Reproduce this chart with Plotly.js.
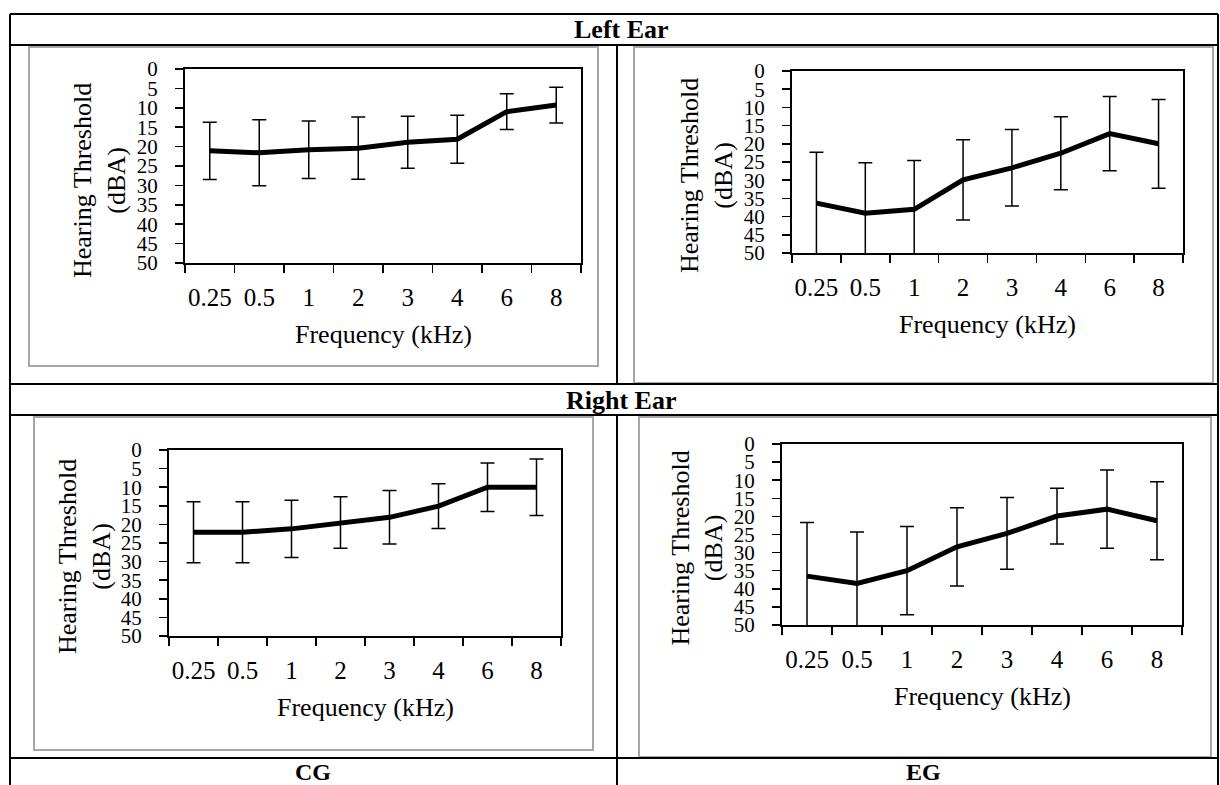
<!DOCTYPE html>
<html>
<head>
<meta charset="utf-8">
<script src="https://cdn.plot.ly/plotly-3.0.1.min.js"></script>
<style>
  html, body { margin: 0; padding: 0; background: #ffffff; }
  #chart { width: 1220px; height: 785px; }
</style>
</head>
<body>
<div id="chart"></div>
<script>
// ---------- data ----------
const freqLabels = ['0.25', '0.5', '1', '2', '3', '4', '6', '8'];
const yTicks = [0, 5, 10, 15, 20, 25, 30, 35, 40, 45, 50];

// Control group (CG), left ear
const cgLeftMean = [21.1, 21.6, 20.8, 20.4, 18.9, 18.1, 11.0, 9.3];
const cgLeftSD   = [7.4, 8.5, 7.4, 8.0, 6.7, 6.2, 4.6, 4.6];
// Exposed group (EG), left ear
const egLeftMean = [36.3, 39.1, 38.0, 29.9, 26.6, 22.6, 17.2, 20.0];
const egLeftSD   = [14.0, 13.9, 13.4, 11.0, 10.5, 10.0, 10.2, 12.2];
// Control group (CG), right ear
const cgRightMean = [22.1, 22.1, 21.2, 19.5, 18.1, 15.1, 10.0, 10.0];
const cgRightSD   = [8.2, 8.2, 7.7, 6.9, 7.2, 6.0, 6.5, 7.6];
// Exposed group (EG), right ear
const egRightMean = [36.5, 38.5, 35.0, 28.4, 24.7, 19.9, 18.0, 21.2];
const egRightSD   = [14.8, 14.2, 12.2, 10.8, 9.9, 7.7, 10.8, 10.8];

const rowLabels = ['Left Ear', 'Right Ear'];
const groupLabels = ['CG', 'EG'];
const xTitle = 'Frequency (kHz)';
const yTitle = 'Hearing Threshold<br>(dBA)';

// ---------- layout helpers ----------
const W = 1220, H = 785;
const PX = p => p / W;
const PY = p => 1 - p / H;
const FONT = 'Liberation Serif';

const series = [
  { mean: cgLeftMean,  sd: cgLeftSD,  box: [29, 47, 598, 366],  plot: [185, 69, 581, 263] },
  { mean: egLeftMean,  sd: egLeftSD,  box: [634, 47, 1213, 383], plot: [792, 71, 1183, 253] },
  { mean: cgRightMean, sd: cgRightSD, box: [34, 417, 593, 750], plot: [169, 450, 561, 636] },
  { mean: egRightMean, sd: egRightSD, box: [639, 417, 1211, 757], plot: [782, 444, 1182, 625] }
];

const traces = [];
const layout = {
  width: W, height: H,
  margin: { l: 0, r: 0, t: 0, b: 0 },
  paper_bgcolor: '#ffffff',
  plot_bgcolor: '#ffffff',
  showlegend: false,
  font: { family: FONT, color: '#000000' },
  shapes: [],
  annotations: []
};

series.forEach((s, i) => {
  const n = i === 0 ? '' : String(i + 1);
  traces.push({
    type: 'scatter',
    mode: 'lines',
    x: freqLabels,
    y: s.mean,
    xaxis: 'x' + n,
    yaxis: 'y' + n,
    line: { color: '#000000', width: 5 },
    error_y: { type: 'data', array: s.sd, visible: true, color: '#000000', thickness: 1.5, width: 7 },
    hoverinfo: 'x+y'
  });
  const [l, t, r, b] = s.plot;
  layout['xaxis' + n] = {
    domain: [PX(l), PX(r)],
    anchor: 'y' + n,
    type: 'category',
    range: [-0.5, 7.5],
    tickson: 'boundaries',
    tickangle: 0,
    ticks: 'outside', ticklen: 8, tickwidth: 1.5, tickcolor: '#000000',
    showline: true, linecolor: '#000000', linewidth: 2, mirror: true,
    showgrid: false, zeroline: false,
    tickfont: { family: FONT, size: 25, color: '#000000' },
    ticklabelstandoff: 11,
    fixedrange: true
  };
  layout['yaxis' + n] = {
    domain: [PY(b), PY(t)],
    anchor: 'x' + n,
    range: [50, 0],
    tickmode: 'array',
    tickvals: yTicks,
    ticktext: yTicks.map(String),
    tickangle: 0,
    ticks: 'outside', ticklen: 8, tickwidth: 1.5, tickcolor: '#000000',
    showline: true, linecolor: '#000000', linewidth: 2, mirror: true,
    showgrid: false, zeroline: false,
    tickfont: { family: FONT, size: 21, color: '#000000' },
    ticklabelstandoff: 13,
    fixedrange: true
  };
  // gray frame around each chart
  const [bx0, by0, bx1, by1] = s.box;
  layout.shapes.push({
    type: 'rect', xref: 'paper', yref: 'paper',
    x0: PX(bx0), x1: PX(bx1), y0: PY(by1), y1: PY(by0),
    line: { color: '#a6a6a6', width: 2 }, fillcolor: 'rgba(0,0,0,0)', layer: 'below'
  });
  // axis titles
  layout.annotations.push({
    xref: 'paper', yref: 'paper',
    x: PX((l + r) / 2), y: PY(b + 71),
    xanchor: 'center', yanchor: 'middle',
    text: xTitle, showarrow: false,
    font: { family: FONT, size: 26, color: '#000000' }
  });
  layout.annotations.push({
    xref: 'paper', yref: 'paper',
    x: PX(l - 85), y: PY((t + b) / 2 + 14),
    xanchor: 'center', yanchor: 'middle',
    text: yTitle, textangle: -90, showarrow: false,
    font: { family: FONT, size: 26, color: '#000000' }
  });
});

// table lines
const tableLines = [
  [10, 14, 1218, 14],
  [10, 45, 1218, 45],
  [10, 384, 1218, 384],
  [10, 415, 1218, 415],
  [10, 758, 1218, 758],
  [10, 14, 10, 785],
  [1218, 14, 1218, 785],
  [617, 45, 617, 384],
  [617, 415, 617, 785]
];
tableLines.forEach(([x0, y0, x1, y1]) => {
  layout.shapes.push({
    type: 'line', xref: 'paper', yref: 'paper',
    x0: PX(x0), x1: PX(x1), y0: PY(y0), y1: PY(y1),
    line: { color: '#000000', width: 2 }
  });
});

// header / footer labels
const headerPos = [[621, 30], [621, 400]];
rowLabels.forEach((txt, i) => {
  layout.annotations.push({
    xref: 'paper', yref: 'paper',
    x: PX(headerPos[i][0]), y: PY(headerPos[i][1]),
    xanchor: 'center', yanchor: 'middle',
    text: '<b>' + txt + '</b>', showarrow: false,
    font: { family: FONT, size: 26, color: '#000000' }
  });
});
const footerPos = [[313, 772], [923, 772]];
groupLabels.forEach((txt, i) => {
  layout.annotations.push({
    xref: 'paper', yref: 'paper',
    x: PX(footerPos[i][0]), y: PY(footerPos[i][1]),
    xanchor: 'center', yanchor: 'middle',
    text: '<b>' + txt + '</b>', showarrow: false,
    font: { family: FONT, size: 24, color: '#000000' }
  });
});

Plotly.newPlot('chart', traces, layout, { staticPlot: true, displayModeBar: false });
</script>
</body>
</html>
